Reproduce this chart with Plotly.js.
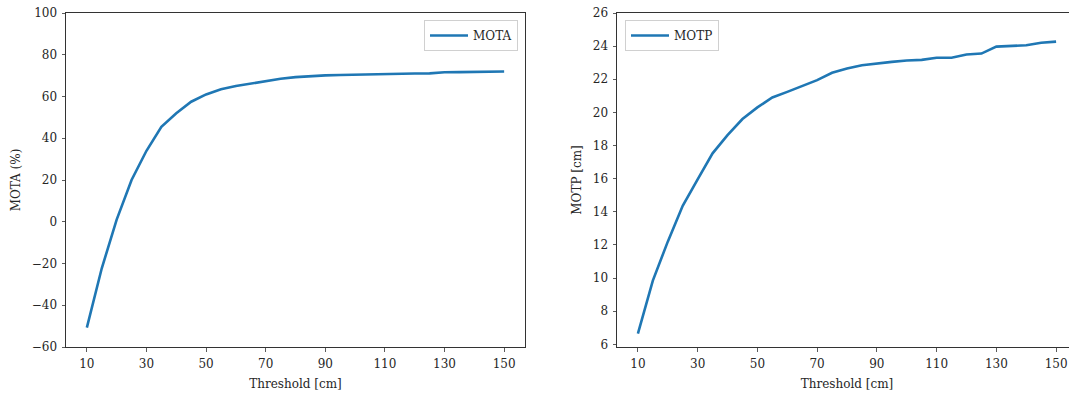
<!DOCTYPE html>
<html>
<head>
<meta charset="utf-8">
<script src="https://cdn.plot.ly/plotly-3.0.1.min.js"></script>
<style>
html,body{margin:0;padding:0;overflow:hidden;background:#fff;}
#chart{width:1080px;height:394px;}
</style>
</head>
<body>
<div id="chart"></div>
<script>
const thresholds = [10,15,20,25,30,35,40,45,50,55,60,65,70,75,80,85,90,95,100,105,110,115,120,125,130,135,140,145,150];
const mota = [-50.7,-22.3,1.0,20.0,34.0,45.5,52.0,57.5,61.0,63.5,65.0,66.2,67.3,68.5,69.3,69.8,70.1,70.3,70.5,70.6,70.8,70.8,71.0,71.1,71.6,71.7,71.7,71.9,72.0];
const motp = [6.65,9.85,12.2,14.36,15.96,17.53,18.63,19.6,20.3,20.9,21.24,21.6,21.95,22.39,22.65,22.85,22.97,23.05,23.13,23.17,23.3,23.3,23.5,23.55,23.97,24.03,24.05,24.2,24.27];
const xTicks = [10,30,50,70,90,110,130,150];
const motaTicks = [-60,-40,-20,0,20,40,60,80,100];
const motpTicks = [6,8,10,12,14,16,18,20,22,24,26];

const W = 1080;
const FONT = {family:"DejaVu Serif, serif", size:12, color:"#262626"};
const LINE = {color:"#1f77b4", width:2.6};

const axisBase = {
  showline:true, mirror:true, linecolor:"#333333", linewidth:1,
  ticks:"outside", ticklen:3.5, tickwidth:0.8, tickcolor:"#333333",
  showgrid:false, zeroline:false, tickfont:FONT, ticklabelstandoff:2
};

const traces = [
  {x:thresholds, y:mota, type:"scatter", mode:"lines", name:"MOTA", line:LINE, xaxis:"x", yaxis:"y", legend:"legend"},
  {x:thresholds, y:motp, type:"scatter", mode:"lines", name:"MOTP", line:LINE, xaxis:"x2", yaxis:"y2", legend:"legend2"}
];

const layout = {
  width:W, height:394,
  margin:{l:0, r:0, t:13, b:47},
  paper_bgcolor:"#fff", plot_bgcolor:"#fff",
  font:FONT,
  showlegend:true,
  xaxis:Object.assign({}, axisBase, {domain:[66/W, 525/W], range:[3,157], tickvals:xTicks,
    title:{text:"Threshold [cm]", font:FONT, standoff:9}, anchor:"y"}),
  yaxis:Object.assign({}, axisBase, {range:[-60,100], tickvals:motaTicks,
    title:{text:"MOTA (%)", font:FONT, standoff:8}, anchor:"x"}),
  xaxis2:Object.assign({}, axisBase, {domain:[617/W, 1077/W], range:[3,157], tickvals:xTicks,
    title:{text:"Threshold [cm]", font:FONT, standoff:9}, anchor:"y2"}),
  yaxis2:Object.assign({}, axisBase, {mirror:false, range:[5.84,26], tickvals:motpTicks,
    title:{text:"MOTP [cm]", font:FONT, standoff:8}, anchor:"x2"}),
  legend:{x:518/W, xanchor:"right", y:(347-20)/334, yanchor:"top", bordercolor:"#d0d0d0", borderwidth:1,
    bgcolor:"rgba(255,255,255,0.8)", font:FONT, itemwidth:38},
  legend2:{x:625/W, xanchor:"left", y:(347-20)/334, yanchor:"top", bordercolor:"#d0d0d0", borderwidth:1,
    bgcolor:"rgba(255,255,255,0.8)", font:FONT, itemwidth:38}
};

Plotly.newPlot("chart", traces, layout, {staticPlot:true, displayModeBar:false});
</script>
</body>
</html>
